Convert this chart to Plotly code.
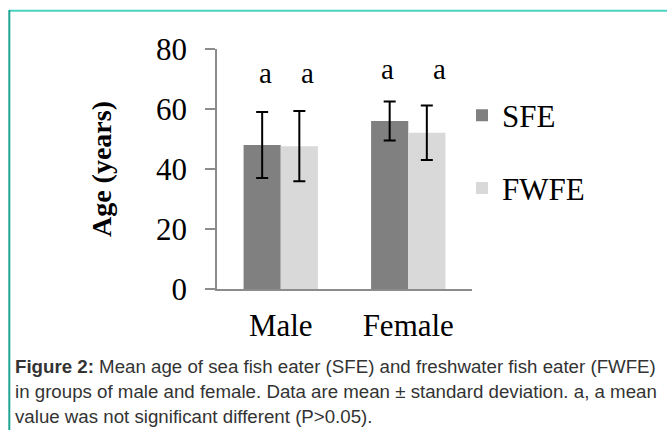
import plotly.graph_objects as go

# ---- data ----
categories = ["Male", "Female"]
sfe_mean = [48.0, 56.0]
sfe_sd = [11.0, 6.5]
fwfe_mean = [47.6, 52.1]
fwfe_sd = [11.7, 9.1]
sig_labels_sfe = ["a", "a"]
sig_labels_fwfe = ["a", "a"]
sig_y = [72.0, 73.5]
y_ticks = [0, 20, 40, 60, 80]
caption_lines = [
    "<b>Figure 2:</b> Mean age of sea fish eater (SFE) and freshwater fish eater (FWFE)",
    "in groups of male and female. Data are mean ± standard deviation. a, a mean",
    "value was not significant different (P>0.05).",
]

W, H = 667, 430
L, R, T, B = 217, 195, 49, 141
PW, PH = W - L - R, H - T - B

def px(x):
    return (x - L) / PW

def py(y):
    return (H - B - y) / PH

serif = "Liberation Serif, Times New Roman, serif"

fig = go.Figure()
fig.add_trace(go.Bar(
    x=categories, y=sfe_mean, name="SFE",
    marker=dict(color="#808080", line=dict(width=0)),
    error_y=dict(type="data", array=sfe_sd, color="black", thickness=2, width=6),
    legendgroup="g1",
))
fig.add_trace(go.Bar(
    x=categories, y=fwfe_mean, name="FWFE",
    marker=dict(color="#d9d9d9", line=dict(width=0)),
    error_y=dict(type="data", array=fwfe_sd, color="black", thickness=2, width=6),
    legendgroup="g2",
))

bargap = 0.417
half = (1 - bargap) / 4
shifts_sfe = [3, -2]
shifts_fwfe = [8, 13]
for i, c in enumerate(categories):
    fig.add_annotation(x=i - half, y=sig_y[i], xref="x", yref="y", text=sig_labels_sfe[i],
                       showarrow=False, xshift=shifts_sfe[i],
                       font=dict(family=serif, size=29, color="black"))
    fig.add_annotation(x=i + half, y=sig_y[i], xref="x", yref="y", text=sig_labels_fwfe[i],
                       showarrow=False, xshift=shifts_fwfe[i],
                       font=dict(family=serif, size=29, color="black"))

cap_font = dict(family="Liberation Sans, Arial, sans-serif", size=18.7, color="#333333")
for k, line in enumerate(caption_lines):
    fig.add_annotation(x=px(13), y=py(366.5 + 25 * k), xref="paper", yref="paper",
                       xanchor="left", yanchor="middle", text=line, showarrow=False,
                       font=cap_font, align="left")

# teal frame (top and left edges)
fig.add_shape(type="line", xref="paper", yref="paper", x0=px(9), x1=px(700),
              y0=py(10.8), y1=py(10.8), line=dict(color="#4dd2c2", width=2))
fig.add_shape(type="line", xref="paper", yref="paper", x0=px(9.3), x1=px(9.3),
              y0=py(10), y1=py(440), line=dict(color="#1fa493", width=2))

fig.update_layout(
    width=W, height=H,
    margin=dict(l=L, r=R, t=T, b=B, autoexpand=False),
    paper_bgcolor="white", plot_bgcolor="white",
    barmode="group", bargap=bargap, bargroupgap=0,
    showlegend=True,
    legend=dict(x=px(462), y=py(88.5), xanchor="left", yanchor="top",
                font=dict(family=serif, size=31, color="black"),
                traceorder="grouped", tracegroupgap=29.5, itemwidth=30,
                bgcolor="rgba(0,0,0,0)"),
    xaxis=dict(range=[-0.5, 1.5], showline=True, linecolor="#8c8c8c", linewidth=1.5,
               ticks="", showgrid=False, zeroline=False,
               tickfont=dict(family=serif, size=31, color="black"),
               ticklabelstandoff=8),
    yaxis=dict(range=[0, 80], tickvals=y_ticks, showline=True, linecolor="#8c8c8c",
               linewidth=1.5, ticks="outside", ticklen=10, tickwidth=1.5,
               tickcolor="#8c8c8c", showgrid=False, zeroline=False,
               tickfont=dict(family=serif, size=31, color="black"),
               ticklabelstandoff=12,
               title=dict(text="<b>Age (years)</b>", standoff=36,
                          font=dict(family=serif, size=28, color="black"))),
)

fig.write_html("out.html", config={"displayModeBar": False},
               post_script="document.body.style.margin='0';document.body.style.overflow='hidden';")
